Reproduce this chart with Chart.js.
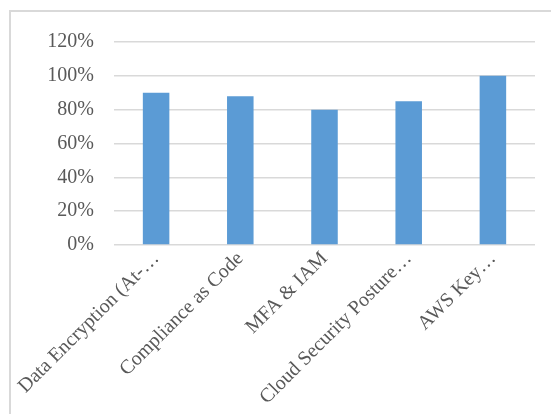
<!DOCTYPE html>
<html>
<head>
<meta charset="utf-8">
<script src="https://cdn.jsdelivr.net/npm/chart.js@4"></script>
<style>
  html, body { margin: 0; padding: 0; background: #fff; }
  #wrap { position: relative; width: 551px; height: 414px; overflow: hidden; }
  #frame { position: absolute; left: 9px; top: 10px; width: 600px; height: 500px;
           border-top: 2px solid #d9d9d9; border-left: 2px solid #d9d9d9; }
  canvas { position: absolute; left: 0; top: 0; }
</style>
</head>
<body>
<div id="wrap">
  <div id="frame"></div>
  <canvas id="c" width="551" height="414"></canvas>
</div>
<script>
const categories = [
  "Data Encryption (At-\u2026",
  "Compliance as Code",
  "MFA & IAM",
  "Cloud Security Posture\u2026",
  "AWS Key\u2026"
];
const values = [0.90, 0.88, 0.80, 0.85, 1.00];
const yTicks = [0, 0.2, 0.4, 0.6, 0.8, 1.0, 1.2];

const font = { family: "'Liberation Serif', 'Times New Roman', serif", size: 20 };
const textColor = '#595959';

new Chart(document.getElementById('c'), {
  type: 'bar',
  data: {
    labels: categories,
    datasets: [{
      data: values,
      backgroundColor: '#5b9bd5',
      borderWidth: 0,
      barPercentage: 0.315,
      categoryPercentage: 1.0
    }]
  },
  options: {
    responsive: false,
    animation: false,
    layout: { padding: { top: 42, right: 16, bottom: 0, left: 0 } },
    plugins: { legend: { display: false }, tooltip: { enabled: false } },
    scales: {
      x: {
        grid: { display: false, drawTicks: false },
        border: { display: false },
        ticks: {
          font: font, color: textColor,
          maxRotation: 45, minRotation: 45,
          autoSkip: false, padding: 2
        },
        afterFit: (s) => { s.height = 169; }
      },
      y: {
        min: 0, max: 1.2,
        afterBuildTicks: (s) => { s.ticks = yTicks.map(v => ({ value: v })); },
        grid: { color: '#d9d9d9', lineWidth: 1.5, drawTicks: false },
        border: { display: false },
        ticks: {
          font: font, color: textColor, padding: 20,
          callback: (v) => Math.round(v * 100) + '%'
        },
        afterFit: (s) => { s.width = 114; }
      }
    }
  }
});
</script>
</body>
</html>
